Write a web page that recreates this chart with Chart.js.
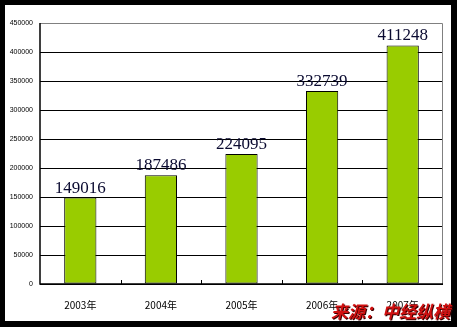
<!DOCTYPE html>
<html>
<head>
<meta charset="utf-8">
<script src="https://cdn.jsdelivr.net/npm/chart.js@4"></script>
<style>
  html, body { margin: 0; padding: 0; background: #000; }
  #wrap { width: 457px; height: 327px; }
</style>
</head>
<body>
<div id="wrap"><canvas id="myChart" width="457" height="327"></canvas></div>
<script>
const years = ['2003年', '2004年', '2005年', '2006年', '2007年'];
const values = [149016, 187486, 224095, 332739, 411248];
const yMax = 450000;
const yStep = 50000;
const sourceText = '来源：中经纵横';

// white panel on black background, plus border lines, inward ticks, labels
const decorPlugin = {
  id: 'decor',
  beforeDraw(chart) {
    const c = chart.ctx;
    c.save();
    c.fillStyle = '#000';
    c.fillRect(0, 0, chart.width, chart.height);
    c.fillStyle = '#fff';
    c.fillRect(5, 5, 446, 316);
    c.restore();
  },
  afterDatasetsDraw(chart) {
    const c = chart.ctx;
    const a = chart.chartArea;
    const x = chart.scales.x;
    c.save();
    // grey top and right border
    c.strokeStyle = '#808080';
    c.lineWidth = 1;
    c.beginPath();
    c.moveTo(a.left, a.top + 0.5);
    c.lineTo(a.right - 0.5, a.top + 0.5);
    c.lineTo(a.right - 0.5, a.bottom);
    c.stroke();
    // axes
    c.strokeStyle = '#000';
    c.lineWidth = 1.5;
    c.beginPath();
    c.moveTo(a.left, a.top);
    c.lineTo(a.left, a.bottom);
    c.lineTo(a.right, a.bottom);
    c.stroke();
    // small inward ticks between categories
    const n = years.length;
    c.lineWidth = 1;
    c.beginPath();
    for (let i = 1; i < n; i++) {
      const px = Math.round(x.left + (x.right - x.left) * i / n) + 0.5;
      c.moveTo(px, a.bottom);
      c.lineTo(px, a.bottom - 4);
    }
    c.stroke();
    // value labels above bars
    const meta = chart.getDatasetMeta(0);
    c.font = "17px 'Liberation Serif'";
    c.fillStyle = '#0a0a30';
    c.textAlign = 'center';
    c.textBaseline = 'bottom';
    meta.data.forEach((bar, i) => {
      c.fillText(String(values[i]), bar.x, bar.y - 1);
    });
    // source note
    c.font = "bold italic 17px 'Noto Sans CJK SC'";
    c.textAlign = 'right';
    c.textBaseline = 'alphabetic';
    c.fillStyle = '#3a0000';
    c.fillText(sourceText, 451, 319);
    c.fillStyle = '#d01010';
    c.fillText(sourceText, 450, 318);
    c.restore();
  }
};

const ctx = document.getElementById('myChart').getContext('2d');
const chart = new Chart(ctx, {
  type: 'bar',
  data: {
    labels: years,
    datasets: [{
      data: values,
      backgroundColor: '#99cc00',
      borderColor: '#000',
      borderWidth: 1,
      borderSkipped: false,
      barPercentage: 0.4,
      categoryPercentage: 1
    }]
  },
  options: {
    responsive: false,
    animation: false,
    devicePixelRatio: 1,
    layout: { padding: { left: 0, top: 23, right: 14, bottom: 0 } },
    plugins: { legend: { display: false }, tooltip: { enabled: false } },
    scales: {
      x: {
        grid: { display: false },
        border: { display: false },
        ticks: {
          color: '#000',
          padding: 7,
          font: { family: "'Noto Sans CJK SC'", size: 10 }
        },
        afterFit(scale) { scale.height = 43; }
      },
      y: {
        min: 0,
        max: yMax,
        grid: {
          color: (g) => (g.tick && g.tick.value === yMax ? 'rgba(0,0,0,0)' : '#000'),
          lineWidth: 1,
          drawTicks: false
        },
        border: { display: false },
        ticks: {
          stepSize: yStep,
          color: '#000',
          padding: 7,
          font: { family: "'Liberation Sans'", size: 7 },
          callback: (v) => String(v)
        },
        afterFit(scale) { scale.width = 40; }
      }
    }
  },
  plugins: [decorPlugin]
});
</script>
</body>
</html>
